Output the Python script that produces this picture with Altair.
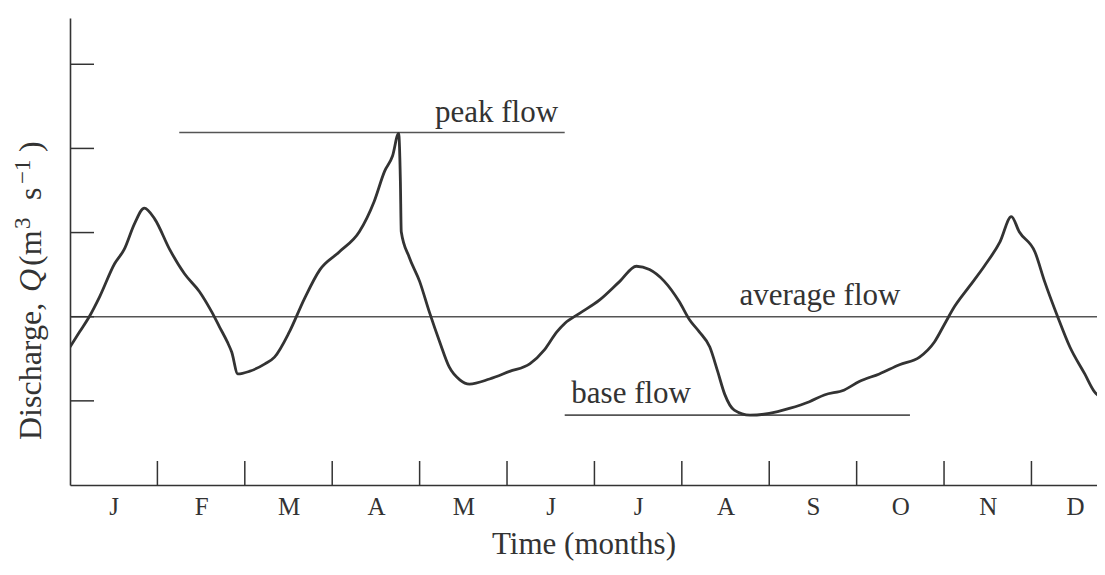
import altair as alt
import pandas as pd

# ---- data ----
month_labels = ["J", "F", "M", "A", "M", "J", "J", "A", "S", "O", "N", "D"]
month_boundaries = [1, 2, 3, 4, 5, 6, 7, 8, 9, 10, 11]
y_ticks = [1, 2, 3, 4, 5]

t = [0.00, 0.11, 0.22, 0.34, 0.51, 0.62, 0.74, 0.85, 0.97, 1.14, 1.31, 1.48, 1.62,
     1.71, 1.80, 1.85, 1.92, 2.05, 2.23, 2.34, 2.51, 2.68, 2.86, 3.08, 3.31, 3.48,
     3.60, 3.69, 3.76, 3.78, 3.79, 3.88, 4.00, 4.11, 4.23, 4.34, 4.46, 4.57, 4.80,
     5.03, 5.26, 5.43, 5.57, 5.66, 5.83, 6.06, 6.29, 6.48, 6.63, 6.80, 6.97, 7.09,
     7.20, 7.32, 7.41, 7.49, 7.60, 7.78, 8.00, 8.23, 8.46, 8.63, 8.86, 9.03, 9.26,
     9.49, 9.72, 9.89, 10.01, 10.12, 10.29, 10.46, 10.64, 10.77, 10.86, 11.04,
     11.15, 11.30, 11.44, 11.61, 11.72, 11.84]
q = [1.64, 1.82, 2.00, 2.24, 2.63, 2.80, 3.11, 3.29, 3.16, 2.80, 2.51, 2.30, 2.06,
     1.88, 1.70, 1.58, 1.32, 1.35, 1.44, 1.52, 1.82, 2.21, 2.56, 2.77, 3.01, 3.37,
     3.73, 3.91, 4.18, 3.61, 3.01, 2.71, 2.42, 2.06, 1.70, 1.40, 1.25, 1.20, 1.26,
     1.35, 1.44, 1.61, 1.82, 1.92, 2.04, 2.20, 2.42, 2.60, 2.56, 2.42, 2.18, 1.96,
     1.82, 1.64, 1.35, 1.08, 0.89, 0.83, 0.85, 0.91, 0.99, 1.07, 1.13, 1.23, 1.32,
     1.43, 1.52, 1.70, 1.92, 2.12, 2.36, 2.60, 2.89, 3.19, 3.01, 2.77, 2.42, 2.00,
     1.64, 1.32, 1.11, 1.02]

average_flow = 2.0
peak_flow = 4.19
peak_span = [1.25, 5.66]
base_flow = 0.83
base_span = [5.66, 9.61]

ann_text = ["peak flow", "average flow", "base flow"]
ann_x = [4.88, 8.58, 6.42]
ann_y = [4.31, 2.14, 0.98]

# y-axis title, typeset in pieces (italic Q, superscripts)
title_parts = ["Discharge,", "Q", "(m", "3", "s", "\u22121", ")"]
title_italic = [False, True, False, False, False, False, False]
title_sup = [False, False, False, True, False, True, False]

X_MAX = 11.75
Y_MAX = 5.55
W, H = 1027, 467
FONT = "Liberation Serif"
INK = "#333333"
THIN = "#555555"

# layout of the title pieces (page y where each piece starts, reading upward)
part_start_page_y = [440, 292, 266, 229, 200, 184, 152]

xs = alt.Scale(domain=[0, X_MAX], nice=False, zero=False)
ys = alt.Scale(domain=[0, Y_MAX], nice=False)

label_expr = "[" + ",".join("'" + m + "'" for m in month_labels) + "][floor(datum.value)]"

curve_df = pd.DataFrame({"t": t, "q": q, "i": list(range(len(t)))})

curve = alt.Chart(curve_df).mark_line(
    color=INK, strokeWidth=2.8, strokeJoin="round", interpolate="monotone", clip=True
).encode(
    x=alt.X("t:Q", scale=xs, axis=alt.Axis(
        values=[i + 0.5 for i in range(len(month_labels))],
        labelExpr=label_expr, ticks=False, grid=False,
        domainColor=INK, domainWidth=1.6,
        labelFont=FONT, labelFontSize=25, labelColor=INK, labelPadding=9,
        title="Time (months)", titleFont=FONT, titleFontSize=31,
        titleFontWeight="normal", titleColor=INK, titlePadding=10)),
    y=alt.Y("q:Q", scale=ys, axis=alt.Axis(
        labels=False, ticks=False, grid=False, title=None,
        domainColor=INK, domainWidth=1.6)),
    order="i:Q",
)

xtick_df = pd.DataFrame({"m": month_boundaries})
xticks = alt.Chart(xtick_df).mark_rule(color=INK, strokeWidth=1.5).encode(
    x=alt.X("m:Q", scale=xs), y=alt.value(H), y2=alt.value(H - 24))

ytick_df = pd.DataFrame({"v": y_ticks})
yticks = alt.Chart(ytick_df).mark_rule(color=INK, strokeWidth=1.5).encode(
    y=alt.Y("v:Q", scale=ys), x=alt.value(0), x2=alt.value(24))

avg_rule = alt.Chart(pd.DataFrame({"v": [average_flow]})).mark_rule(
    color=THIN, strokeWidth=1.6).encode(y=alt.Y("v:Q", scale=ys))

level_df = pd.DataFrame({
    "v": [peak_flow, base_flow],
    "a": [peak_span[0], base_span[0]],
    "b": [peak_span[1], base_span[1]],
})
levels = alt.Chart(level_df).mark_rule(color=THIN, strokeWidth=1.6).encode(
    y=alt.Y("v:Q", scale=ys), x=alt.X("a:Q", scale=xs), x2="b:Q")

ann_df = pd.DataFrame({"text": ann_text, "x": ann_x, "y": ann_y})
ann = alt.Chart(ann_df).mark_text(
    font=FONT, fontSize=31, color=INK, align="center", baseline="alphabetic").encode(
    x=alt.X("x:Q", scale=xs), y=alt.Y("y:Q", scale=ys), text="text:N")

# y title pieces
title_layers = []
for txt, it, sup, py in zip(title_parts, title_italic, title_sup, part_start_page_y):
    title_layers.append(
        alt.Chart(pd.DataFrame({"s": [txt]})).mark_text(
            font=FONT, fontSize=23 if sup else 32,
            fontStyle="italic" if it else "normal",
            color=INK, angle=270, align="left", baseline="alphabetic",
        ).encode(
            text="s:N",
            x=alt.value(-40 if sup else -29),
            y=alt.value(py - 18),
        )
    )

chart = alt.layer(avg_rule, levels, xticks, yticks, curve, ann, *title_layers).properties(
    width=W, height=H,
    autosize=alt.AutoSizeParams(type="none"),
    padding={"left": 62, "top": 10, "right": 0, "bottom": 85},
    background="white",
).configure_view(stroke=None)

chart.save("out.html", embed_options={"renderer": "svg", "actions": False})
